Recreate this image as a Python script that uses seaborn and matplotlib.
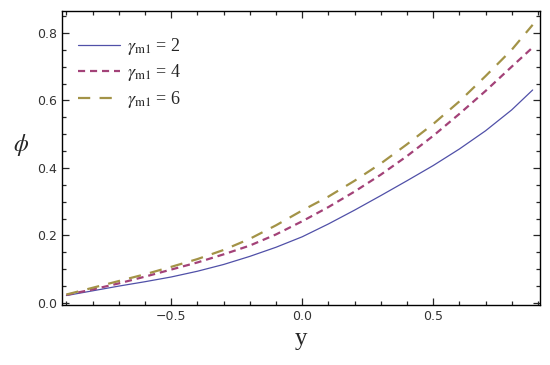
import numpy as np
import pandas as pd
import matplotlib
matplotlib.use("Agg")
import matplotlib.pyplot as plt
from matplotlib.ticker import MultipleLocator
import seaborn as sns

# values
y_vals = [-0.9, -0.8, -0.7, -0.6, -0.5, -0.4, -0.3, -0.2, -0.1, 0.0,
          0.1, 0.2, 0.3, 0.4, 0.5, 0.6, 0.7, 0.8, 0.88]
phi_g2 = [0.022, 0.036, 0.050, 0.063, 0.077, 0.094, 0.114, 0.138, 0.165, 0.196,
          0.234, 0.275, 0.318, 0.362, 0.407, 0.456, 0.510, 0.572, 0.631]
phi_g4 = [0.024, 0.040, 0.058, 0.078, 0.099, 0.120, 0.144, 0.170, 0.203, 0.242,
          0.284, 0.330, 0.380, 0.435, 0.495, 0.560, 0.628, 0.700, 0.757]
phi_g6 = [0.025, 0.045, 0.065, 0.085, 0.107, 0.130, 0.157, 0.190, 0.230, 0.274,
          0.315, 0.362, 0.413, 0.470, 0.530, 0.597, 0.672, 0.750, 0.824]
labels = [r"$\gamma_{\rm m1}$ = 2", r"$\gamma_{\rm m1}$ = 4", r"$\gamma_{\rm m1}$ = 6"]

df = pd.concat([
    pd.DataFrame({"y": y_vals, "phi": v, "case": lab})
    for v, lab in zip([phi_g2, phi_g4, phi_g6], labels)
])

sns.set_style("ticks")
plt.rcParams["mathtext.fontset"] = "stix"
plt.rcParams["font.family"] = ["DejaVu Sans"]

colors = {labels[0]: "#5050a8", labels[1]: "#a34278", labels[2]: "#a39347"}
dashes = {labels[0]: "", labels[1]: (3.2, 2.2), labels[2]: (5.5, 4.2)}

fig = plt.figure(figsize=(5.5, 3.65), dpi=100)
ax = fig.add_axes([0.1127, 0.1644, 0.8691, 0.8055])
sns.lineplot(data=df, x="y", y="phi", hue="case", style="case",
             palette=colors, dashes=dashes, ax=ax, legend=False)
lines = ax.get_lines()
lines[0].set_linewidth(0.9)
lines[1].set_linewidth(1.6)
lines[2].set_linewidth(1.6)

ax.set_xlim(-0.917, 0.908)
ax.set_ylim(-0.006, 0.865)
ax.xaxis.set_major_locator(MultipleLocator(0.5))
ax.xaxis.set_minor_locator(MultipleLocator(0.1))
ax.yaxis.set_major_locator(MultipleLocator(0.2))
ax.yaxis.set_minor_locator(MultipleLocator(0.05))
ax.tick_params(which="both", direction="in", top=True, right=True,
               labelsize=9, labelcolor="#333333", width=0.9)
ax.tick_params(which="major", length=5)
ax.tick_params(which="minor", length=3)
for s in ax.spines.values():
    s.set_linewidth(1.0)
    s.set_color("black")

ax.set_xlabel("y", family="Liberation Serif", fontsize=18, labelpad=4)
ax.set_ylabel(r"$\phi$", fontsize=17, rotation=0, labelpad=14)
ax.yaxis.set_label_coords(-0.085, 0.5)

ax.legend(lines, labels, loc="upper left", frameon=False,
          prop={"family": "Liberation Serif", "size": 13},
          handlelength=2.3, handletextpad=0.4, labelspacing=0.3,
          bbox_to_anchor=(0.0, 0.97))

fig.savefig("out.png", dpi=100)
